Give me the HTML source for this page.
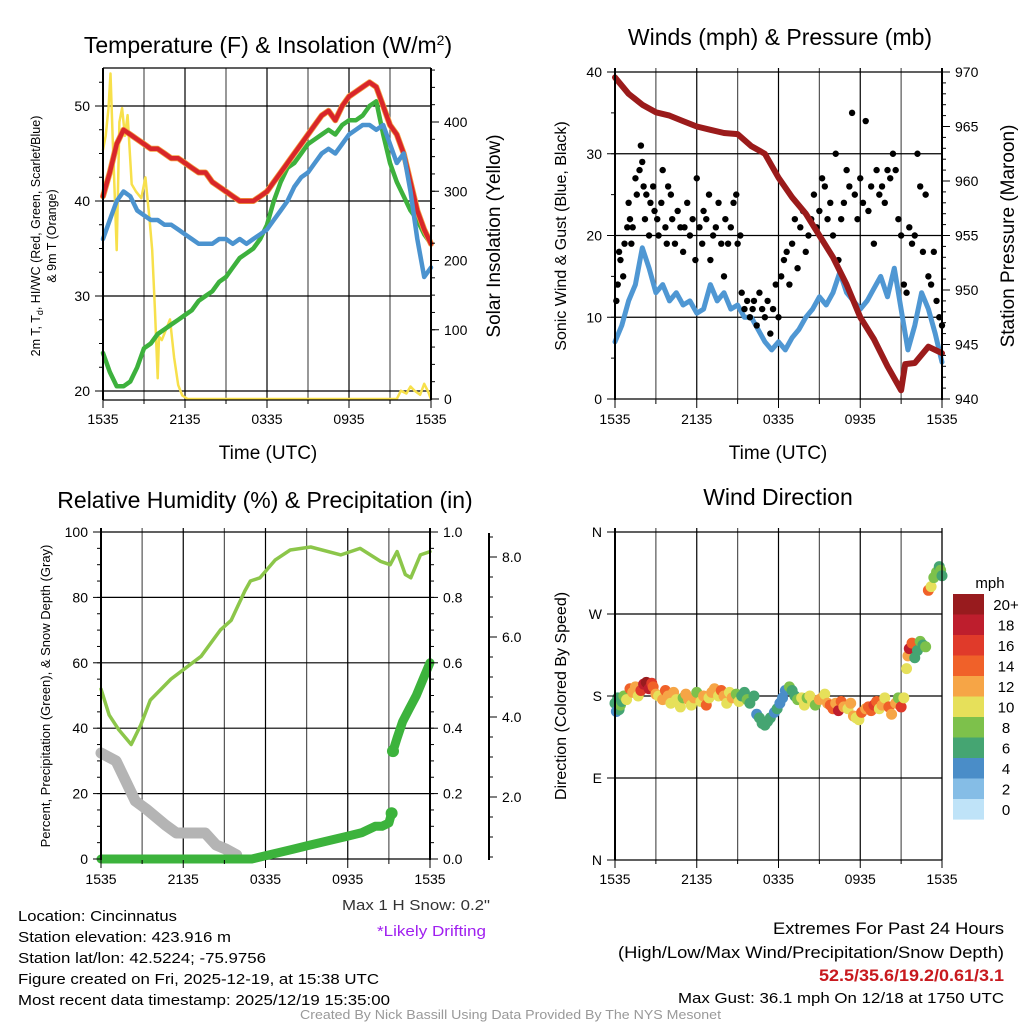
<!DOCTYPE html>
<html><head><meta charset="utf-8"><style>
html,body{margin:0;padding:0;background:#fff;}
svg{display:block;font-family:"Liberation Sans",Arial,sans-serif;}
</style></head><body>
<svg id="c" width="1024" height="1024" viewBox="0 0 1024 1024" xmlns="http://www.w3.org/2000/svg">
<rect x="0" y="0" width="1024" height="1024" fill="#fff"/>
<g id="grid"></g><g id="marks"></g><g id="axes"></g>
<text x="268" y="53" font-size="23" text-anchor="middle">Temperature (F) &amp; Insolation (W/m<tspan dy="-8" font-size="14">2</tspan><tspan dy="8">)</tspan></text>
<text x="780" y="45" font-size="23" text-anchor="middle">Winds (mph) &amp; Pressure (mb)</text>
<text x="265" y="508" font-size="23" text-anchor="middle">Relative Humidity (%) &amp; Precipitation (in)</text>
<text x="778" y="505" font-size="23" text-anchor="middle">Wind Direction</text>
<text x="268" y="459" font-size="19" text-anchor="middle">Time (UTC)</text>
<text x="778" y="459" font-size="19" text-anchor="middle">Time (UTC)</text>
<text transform="translate(40,236) rotate(-90)" font-size="12.5" text-anchor="middle">2m T, T<tspan dy="3" font-size="9">d</tspan><tspan dy="-3">, HI/WC (Red, Green, Scarlet/Blue)</tspan></text>
<text transform="translate(56,236) rotate(-90)" font-size="12.5" text-anchor="middle">&amp; 9m T (Orange)</text>
<text transform="translate(500,236) rotate(-90)" font-size="19" text-anchor="middle">Solar Insolation (Yellow)</text>
<text transform="translate(566,236) rotate(-90)" font-size="16" text-anchor="middle">Sonic Wind &amp; Gust (Blue, Black)</text>
<text transform="translate(1014,236) rotate(-90)" font-size="19" text-anchor="middle">Station Pressure (Maroon)</text>
<text transform="translate(50,696) rotate(-90)" font-size="13" text-anchor="middle">Percent, Precipitation (Green), &amp; Snow Depth (Gray)</text>
<text transform="translate(566,696) rotate(-90)" font-size="16" text-anchor="middle">Direction (Colored By Speed)</text>
<text x="990" y="588" font-size="15" text-anchor="middle">mph</text>
<g font-size="15">
<text x="18" y="921" textLength="159" lengthAdjust="spacingAndGlyphs">Location: Cincinnatus</text>
<text x="18" y="942" textLength="213" lengthAdjust="spacingAndGlyphs">Station elevation: 423.916 m</text>
<text x="18" y="963" textLength="248" lengthAdjust="spacingAndGlyphs">Station lat/lon: 42.5224; -75.9756</text>
<text x="18" y="984" textLength="361" lengthAdjust="spacingAndGlyphs">Figure created on Fri, 2025-12-19, at 15:38 UTC</text>
<text x="18" y="1005" textLength="372" lengthAdjust="spacingAndGlyphs">Most recent data timestamp: 2025/12/19 15:35:00</text>
</g>
<text x="342" y="910" font-size="15" textLength="148" lengthAdjust="spacingAndGlyphs" fill="#333">Max 1 H Snow: 0.2"</text>
<text x="377" y="936" font-size="15" textLength="109" lengthAdjust="spacingAndGlyphs" fill="#a020f0">*Likely Drifting</text>
<text x="773" y="934" font-size="17" textLength="231" lengthAdjust="spacingAndGlyphs">Extremes For Past 24 Hours</text>
<text x="618" y="958" font-size="17" textLength="386" lengthAdjust="spacingAndGlyphs">(High/Low/Max Wind/Precipitation/Snow Depth)</text>
<text x="819" y="981" font-size="17" font-weight="bold" fill="#c8191e" textLength="185" lengthAdjust="spacingAndGlyphs">52.5/35.6/19.2/0.61/3.1</text>
<text x="678" y="1003" font-size="15" textLength="326" lengthAdjust="spacingAndGlyphs">Max Gust: 36.1 mph On 12/18 at 1750 UTC</text>
<text x="300" y="1019" font-size="13" fill="#999" textLength="421" lengthAdjust="spacingAndGlyphs">Created By Nick Bassill Using Data Provided By The NYS Mesonet</text>
</svg>
<script>
const hh = [0,0.5,1,1.5,2,2.5,3,3.5,4,4.5,5,5.5,6,6.5,7,7.5,8,8.5,9,9.5,10,10.5,11,11.5,12,12.5,13,13.5,14,14.5,15,15.5,16,16.5,17,17.5,18,18.5,19,19.5,20,20.5,21,21.5,22,22.5,23,23.5,24];
const tempRed = [40.5,43,46,47.5,47,46.5,46,45.5,45.5,45,44.5,44.5,44,43.5,43,43,42,41.5,41,40.5,40,40,40,40.5,41,42,43,44,45,46,47,48,49,49.5,48.5,50,51,51.5,52,52.5,52,50,48,47,45,42,39,37,35.5];
const wcBlue = [36,38,40,41,40.5,39,38.5,38,38,37.5,37.5,37,36.5,36,35.5,35.5,35.5,36,36,35.5,36,35.5,36,36.5,37,38,39,40,41.5,42.5,43,44,45,45.5,45,46,47,47.5,48,48,47.5,48,46,44,45,41,36,32,33];
const dewGreen = [24,22,20.5,20.5,21,22.5,24.5,25,26,26.5,27,27.5,28,28.5,29.5,30,30.5,31.5,32,33,34,34.5,35,36,37.5,40,42,43.5,44,45,46,46.5,47,47.5,47,48,48.5,48.5,49,50,50.5,47,44,42,40.5,39,38,36.5,35.5];
const solarT = [0,0.2,0.4,0.55,0.7,0.85,1.0,1.2,1.4,1.6,1.8,2.1,2.4,2.8,3.1,3.4,3.6,3.8,4.0,4.1,4.3,4.6,4.9,5.2,5.5,5.8,6.2,8,12,18,21.5,21.8,22.2,22.5,22.8,23.2,23.5,23.8,24];
const solarV = [360,380,420,470,380,300,215,400,420,380,410,310,300,290,320,260,215,130,30,90,85,100,115,60,20,5,0,0,0,0,0,12,8,18,12,6,22,10,0];
const presT = [0,1,2,3,4,5,6,7,8,9,10,11,12,13,14,15,16,17,18,19,20,21,21.3,22,23,24];
const presV = [969.5,968,967,966.3,966,965.5,965,964.7,964.4,964.3,963.2,962.5,960.3,958.5,957,955,953,950.5,947.5,945.5,943,940.8,943.2,943.3,944.8,944.2];
const windBlue = [7,9,12,14,18.5,16,13,14,12,13,11.5,12,10.5,11,14,12,13,11,11.5,10,10,8.5,7,6,7,6,7.5,8.5,10,11,12.5,11.5,13,15.5,13,12,11,12,13.5,15,12.5,16,11,6,9,13,11,8,4.5];
const gustT = [0.1,0.2,0.3,0.4,0.6,0.7,0.9,1.0,1.1,1.2,1.3,1.5,1.6,1.8,1.9,2.0,2.1,2.2,2.3,2.5,2.6,2.8,2.9,3.1,3.2,3.4,3.5,3.7,3.8,3.9,4.1,4.2,4.4,4.6,4.8,5.0,5.1,5.3,5.5,5.7,5.9,6.0,6.2,6.4,6.5,6.7,6.9,7.0,7.2,7.4,7.6,7.8,8.0,8.1,8.3,8.5,8.7,8.9,9.0,9.2,9.3,9.5,9.7,9.9,10.1,10.2,10.4,10.6,10.8,11.0,11.2,11.4,11.6,11.8,12.0,12.2,12.4,12.6,12.8,13.0,13.2,13.4,13.6,13.8,14.0,14.2,14.4,14.6,14.8,15.0,15.2,15.4,15.6,15.8,16.0,16.2,16.4,16.6,16.8,17.0,17.2,17.4,17.6,17.8,18.0,18.2,18.4,18.6,18.8,19.0,19.2,19.4,19.6,19.8,20.0,20.2,20.4,20.6,20.8,21.0,21.2,21.4,21.6,21.8,22.0,22.2,22.4,22.6,22.8,23.0,23.2,23.4,23.6,23.8,24.0];
const gustV = [12,14,18,17,15,19,21,24,22,19,21,27,25,28,31,29,26,22,25,20,24,26,23,22,20,24,28,21,19,26,25,22,19,23,21,18,21,24,20,22,17,27,21,19,23,22,25,17,20,21,24,19,15,22,19,21,24,25,19,20,13,11,12,10,11,12,9,13,11,10,12,8,11,14,10,15,17,18,14,19,22,16,21,23,18,20,22,25,21,23,27,26,22,24,20,30,17,22,24,28,26,35,25,22,27,24,34,23,26,19,28,25,26,24,28,27,30,28,22,20,14,13,21,19,20,30,26,18,25,15,14,18,12,10,9];
const rhT = [0,0.6,1.3,2.2,2.9,3.6,5.1,7.3,8.7,9.5,10.5,10.9,11.6,12.7,13.8,15.3,17.5,18.9,20.4,21.1,21.6,22.2,22.6,23.3,24];
const rhV = [52,44,39.5,35,41,48.6,55,62,70,73,82,85,86,91.4,94.5,95.4,93,95,91,90,94,87,86,93,94];
const precipT = [0,1,2,3,4,5,6,7,8,9,10,11,11.5,12,13,14,15,16,17,18,19,20,20.5,21,21.2,21.3,21.6,22,22.5,23,23.5,24];
const precipV = [0,0,0,0,0,0,0,0,0,0,0,0,0.005,0.01,0.02,0.03,0.04,0.05,0.06,0.07,0.08,0.1,0.1,0.11,0.14,0.33,0.37,0.42,0.46,0.5,0.55,0.6];
const snowT = [0,1.1,1.8,2.5,3.3,4.0,4.7,5.5,6.2,6.9,7.6,8.4,9.1,9.9];
const snowV = [3.1,2.9,2.4,1.9,1.7,1.5,1.3,1.1,1.1,1.1,1.1,0.8,0.7,0.55];
const dirT = [0,0.1,0.2,0.3,0.4,0.5,0.65,0.85,1.1,1.3,1.5,1.7,1.9,2.1,2.3,2.5,2.7,2.8,3.0,3.2,3.5,3.7,3.9,4.1,4.3,4.5,4.8,5.0,5.2,5.4,5.6,5.8,6.0,6.3,6.5,6.7,6.9,7.1,7.3,7.6,7.8,8.0,8.2,8.4,8.6,8.9,9.1,9.3,9.5,9.7,9.9,10.2,10.4,10.6,10.8,11.0,11.2,11.4,11.7,11.9,12.1,12.3,12.5,12.8,13.0,13.2,13.4,13.7,13.9,14.1,14.3,14.5,14.7,15.0,15.2,15.4,15.6,15.8,16.0,16.2,16.4,16.6,16.8,17.1,17.3,17.5,17.7,17.9,18.1,18.4,18.6,18.8,19.0,19.2,19.4,19.6,19.8,20.1,20.3,20.6,20.8,21.0,21.2,21.4,21.5,21.6,21.8,22.0,22.2,22.4,22.6,22.8,23.0,23.2,23.4,23.6,23.8,23.9,24.0];
const dirD = [172,163,178,165,170,174,180,176,188,184,190,180,186,193,195,188,194,190,182,180,176,186,180,172,184,176,168,178,182,176,170,178,184,174,180,170,178,184,188,180,186,180,172,184,178,182,174,180,184,176,172,180,160,156,150,148,152,156,162,166,172,178,186,190,186,180,176,178,170,178,180,174,170,176,178,182,172,170,166,172,164,174,168,166,172,158,156,154,162,166,168,164,170,174,166,170,178,168,160,172,178,168,178,210,224,232,238,222,230,240,236,234,296,300,310,316,322,318,312,320,336,340,306];
const dirS = [6,5,7,6,8,7,8,10,14,12,12,10,16,18,20,18,16,14,12,10,12,14,12,10,12,10,10,8,12,12,10,12,8,10,12,14,10,12,12,10,14,12,10,10,12,8,10,6,6,8,6,6,4,6,6,6,6,6,4,6,4,4,4,8,6,6,8,10,10,8,10,10,8,12,12,10,12,14,14,12,18,14,12,10,12,12,10,10,14,12,14,14,16,14,10,12,10,14,12,12,8,16,10,10,12,18,14,6,6,8,6,8,14,10,8,8,6,8,6,4,4,4,4];
const cbLabels = ["20+","18","16","14","12","10","8","6","4","2","0"];

const NS = "http://www.w3.org/2000/svg";
const G = id => document.getElementById(id);
function mk(tag, attrs, parent){const e=document.createElementNS(NS,tag);for(const k in attrs)e.setAttribute(k,attrs[k]);(parent||G('marks')).appendChild(e);return e;}
function lin(d0,d1,r0,r1){return v=>r0+(v-d0)*(r1-r0)/(d1-d0);}

const P = {
  tl:{x0:103,x1:431,y0:68,y1:400},
  tr:{x0:615,x1:942,y0:68,y1:400},
  bl:{x0:101,x1:430,y0:528,y1:860},
  br:{x0:615,x1:942,y0:528,y1:860}
};
const xt = {tl:lin(0,24,103,431),tr:lin(0,24,615,942),bl:lin(0,24,101,430),br:lin(0,24,615,942)};
const yTemp = lin(20,50,391,106), ySolar = lin(0,400,399,122);
const yWind = lin(0,40,399,72), yPres = lin(940,970,399,72);
const yRH = lin(0,100,859,532), yPrecip = lin(0,1,859,532), ySnow = lin(0,8,877,557);
const yDir = lin(0,360,860,532);
const xLabels = ["1535","2135","0335","0935","1535"];

function gridAndX(key){
  const p=P[key], X=xt[key];
  for(let h=0;h<=24;h+=3){
    const v=mk('line',{x1:X(h),x2:X(h),y1:p.y0,y2:p.y1,stroke:(h%6==0&&h>0&&h<24)?'#000':'#555','stroke-width':1.2},G('grid'));
    
    
  }
  for(let i=0;i<=8;i++){
    const h=i*3;
    const t=mk('line',{x1:X(h),x2:X(h),y1:p.y1,y2:p.y1+(i%2==0?8:4),stroke:'#000','stroke-width':1},G('axes'));
    
    
  }
  xLabels.forEach((l,i)=>{
    const t=mk('text',{x:X(i*6),y:p.y1+24,'font-size':14,'text-anchor':'middle'},G('axes'));
    t.textContent=l;
    
    
  });
}
function hline(key,y,name){const p=P[key];const l=mk('line',{x1:p.x0,x2:p.x1,y1:y,y2:y,stroke:'#000','stroke-width':1.2},G('grid'));}
function yaxis(x,y0,y1,ticks,yf,labels,side,name,minor){
  const a=mk('line',{x1:x,x2:x,y1:y0,y2:y1,stroke:'#000','stroke-width':2},G('axes'));
  
  
  const dir=side==='left'?-1:1;
  (minor||[]).forEach(v=>{mk('line',{x1:x,x2:x+dir*4,y1:yf(v),y2:yf(v),stroke:'#000','stroke-width':1},G('axes'));});
  ticks.forEach((v,i)=>{
    mk('line',{x1:x,x2:x+dir*8,y1:yf(v),y2:yf(v),stroke:'#000','stroke-width':1},G('axes'));
    const t=mk('text',{x:x+dir*13,y:yf(v)+5,'font-size':14,'text-anchor':side==='left'?'end':'start'},G('axes'));
    t.textContent=labels[i];
    
    
  });
}
function poly(T,V,X,Y,color,w,name){
  const pts=T.map((t,i)=>X(t).toFixed(1)+','+Y(V[i]).toFixed(1)).join(' ');
  const e=mk('polyline',{points:pts,fill:'none',stroke:color,'stroke-width':w,'stroke-linejoin':'round','stroke-linecap':'round'});
  
  
}
function rng(a,b,s){const r=[];for(let v=a;v<=b+1e-9;v+=s)r.push(+v.toFixed(3));return r;}

gridAndX('tl');
[20,30,40,50].forEach(v=>hline('tl',yTemp(v),'temp-gridline'));
yaxis(103,68,400,[20,30,40,50],yTemp,["20","30","40","50"],'left','temp-y-axis',rng(20,52.5,2.5));
yaxis(431,68,400,[0,100,200,300,400],ySolar,["0","100","200","300","400"],'right','solar-y-axis',rng(0,475,25));
mk('line',{x1:103,x2:431,y1:68,y2:68,stroke:'#000','stroke-width':1.2},G('axes'));
mk('line',{x1:103,x2:431,y1:400,y2:400,stroke:'#000','stroke-width':1.2},G('axes'));
const Xtl=xt.tl;
poly(solarT,solarV,Xtl,ySolar,'#f7e04b',2.5,'solar-line');
poly(hh,dewGreen,Xtl,yTemp,'#3db13d',4.5,'dewpoint-line');
poly(hh,tempRed,Xtl,yTemp,'#f4a040',6,'temp-9m-line');
poly(hh,tempRed,Xtl,yTemp,'#d8262a',4.5,'temp-2m-line');
poly(hh,wcBlue,Xtl,yTemp,'#4b93cf',4.5,'windchill-line');

gridAndX('tr');
[0,10,20,30,40].forEach(v=>hline('tr',yWind(v),'wind-gridline'));
yaxis(615,68,400,[0,10,20,30,40],yWind,["0","10","20","30","40"],'left','wind-y-axis',rng(0,40,5));
yaxis(942,68,400,[940,945,950,955,960,965,970],yPres,["940","945","950","955","960","965","970"],'right','pressure-y-axis',rng(940,970,1));
const Xtr=xt.tr;
poly(hh,windBlue,Xtr,yWind,'#4f97d3',5,'sonic-wind-line');
gustT.forEach((t,i)=>{
  const c=mk('circle',{cx:Xtr(t),cy:yWind(gustV[i]),r:3.2,fill:'#000'});
  
  
});
poly(presT,presV,Xtr,yPres,'#9b1b1b',6,'pressure-line');

gridAndX('bl');
[0,20,40,60,80,100].forEach(v=>hline('bl',yRH(v),'rh-gridline'));
yaxis(101,528,860,[0,20,40,60,80,100],yRH,["0","20","40","60","80","100"],'left','rh-y-axis',rng(0,100,5));
yaxis(430,528,860,[0,0.2,0.4,0.6,0.8,1.0],yPrecip,["0.0","0.2","0.4","0.6","0.8","1.0"],'right','precip-y-axis',rng(0,1,0.05));
yaxis(489,533,860,[2,4,6,8],ySnow,["2.0","4.0","6.0","8.0"],'right','snow-y-axis',rng(0.5,8.5,0.5));
const Xbl=xt.bl;
poly(snowT,snowV,Xbl,ySnow,'#b4b4b4',11,'snow-depth-line');
poly(rhT,rhV,Xbl,yRH,'#8cc64a',3.5,'rh-line');
poly(precipT.slice(0,25),precipV.slice(0,25),Xbl,yPrecip,'#3cb33c',9,'precip-line');
poly(precipT.slice(25),precipV.slice(25),Xbl,yPrecip,'#3cb33c',9,'precip-line-late');
[24,25].forEach(i=>{const c=mk('circle',{cx:Xbl(precipT[i]),cy:yPrecip(precipV[i]),r:6,fill:'#3cb33c'});});

gridAndX('br');
[0,90,180,270,360].forEach(v=>hline('br',yDir(v),'dir-gridline'));
yaxis(615,528,860,[0,90,180,270,360],yDir,["N","E","S","W","N"],'left','direction-y-axis',[]);
mk('line',{x1:942,x2:942,y1:528,y2:860,stroke:'#000','stroke-width':1.2},G('axes'));
const cbColors=['#981b1e','#be1e2d','#e03a2a','#f06129','#f6a546','#e6e05a','#7dc14b','#45a572','#4a8dc8','#85bde6','#bfe3f8'];
function spdColor(s){const idx=Math.max(0,Math.min(10,10-Math.floor(s/2)));return cbColors[idx];}
const Xbr=xt.br;
dirT.forEach((t,i)=>{
  const c=mk('circle',{cx:Xbr(t),cy:yDir(dirD[i]),r:5.5,fill:spdColor(dirS[i])});
  
  
});
cbLabels.forEach((l,i)=>{
  const r=mk('rect',{x:953,y:594+i*20.5,width:31,height:20.6,fill:cbColors[i]},G('axes'));
  
  
  const t=mk('text',{x:1006,y:594+i*20.5+16,'font-size':15,'text-anchor':'middle'},G('axes'));
  t.textContent=l;
  
  
});
</script>
</body></html>
